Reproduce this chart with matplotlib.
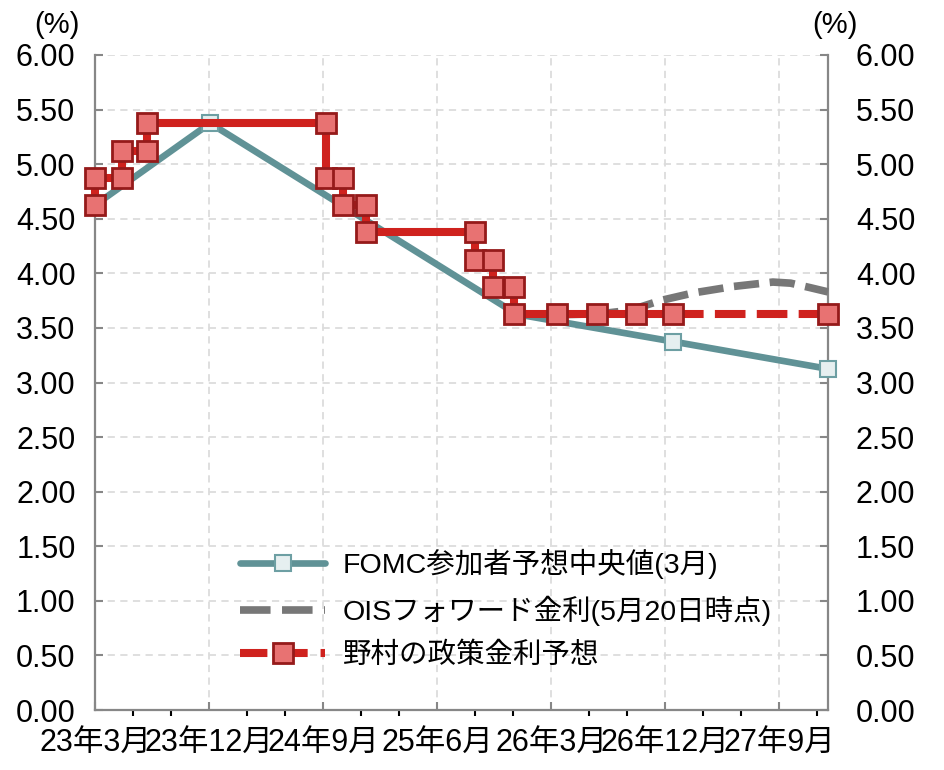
import matplotlib
matplotlib.use('Agg')
import matplotlib.pyplot as plt
from matplotlib.lines import Line2D
from matplotlib.ticker import MultipleLocator, FixedLocator

plt.rcParams['font.family'] = ['Liberation Sans', 'Noto Sans CJK JP']

# x = months since 2023年3月
fomc_x = [0, 9.08, 33.3, 45.62, 57.85]
fomc_y = [4.625, 5.375, 3.625, 3.375, 3.125]

ois_x = [36.5, 39.9, 41.4, 43.0, 44.6, 47.2, 50.4, 53.5, 54.9, 56.4, 57.85]
ois_y = [3.62, 3.63, 3.65, 3.69, 3.75, 3.82, 3.88, 3.92, 3.91, 3.87, 3.83]

nomura_x = [0, 0, 2.13, 2.13, 4.1, 4.1, 18.23, 18.23, 19.57, 19.57, 21.39, 21.39,
            30.0, 30.0, 31.41, 31.41, 33.07, 33.07, 36.46, 39.62, 42.7, 45.62]
nomura_y = [4.625, 4.875, 4.875, 5.125, 5.125, 5.375, 5.375, 4.875, 4.875, 4.625, 4.625, 4.375,
            4.375, 4.125, 4.125, 3.875, 3.875, 3.625, 3.625, 3.625, 3.625, 3.625]
nomura_tail_x = [45.62, 57.85]
nomura_tail_y = [3.625, 3.625]

xtick_pos = [0, 9, 18, 27, 36, 45, 54]
xtick_labels = ['23年3月', '23年12月', '24年9月', '25年6月', '26年3月', '26年12月', '27年9月']

labels = ['FOMC参加者予想中央値(3月)', 'OISフォワード金利(5月20日時点)', '野村の政策金利予想']

teal = '#609296'
teal_face = '#e6eff0'
teal_edge = '#6d9fa3'
gray = '#777777'
red = '#cf221e'
red_face = '#e87272'
red_edge = '#951a1a'
axis_gray = '#878787'

fig = plt.figure(figsize=(9.44, 7.7), dpi=100)
ax = fig.add_axes([95/944, 1 - 710/770, (828-95)/944, (710-55)/770])

ax.plot(fomc_x, fomc_y, color=teal, lw=4.8, marker='s', ms=12,
        mfc=teal_face, mec=teal_edge, mew=1.5, zorder=3, clip_on=False)
ax.plot(ois_x, ois_y, color=gray, lw=5.5, dashes=(3.3, 1.4), zorder=4, clip_on=False)
ax.plot(nomura_x, nomura_y, color=red, lw=5.8, zorder=5, clip_on=False)
ax.plot(nomura_tail_x, nomura_tail_y, color=red, lw=5.8, dashes=(3.8, 1.4), zorder=5,
        clip_on=False)
ax.plot(nomura_x + nomura_tail_x[1:], nomura_y + nomura_tail_y[1:], ls='none',
        marker='s', ms=14, mfc=red_face, mec=red_edge, mew=2, zorder=6, clip_on=False)

ax.set_xlim(0, 57.85)
ax.set_ylim(0, 6)
ax.xaxis.set_major_locator(FixedLocator(xtick_pos))
ax.set_xticks(xtick_pos, xtick_labels)
ax.xaxis.set_minor_locator(MultipleLocator(3))
ax.yaxis.set_major_locator(MultipleLocator(0.5))
ax.yaxis.set_major_formatter('{x:.2f}')

ax.grid(True, which='major', color='#dcdcdc', lw=1.3, ls=(0, (4, 3)))
ax.set_axisbelow(True)

for s in ['left', 'bottom', 'right']:
    ax.spines[s].set_color(axis_gray)
    ax.spines[s].set_linewidth(1.6)
ax.spines['top'].set_visible(False)

ax.tick_params(axis='both', direction='in', colors=axis_gray, width=1.5, labelcolor='black',
               labelsize=22)
ax.tick_params(axis='y', length=6, pad=14)
ax.tick_params(axis='x', which='major', length=6, pad=13)
ax.tick_params(axis='x', which='minor', length=4, width=1.5)

ax2 = ax.twinx()
ax2.set_ylim(0, 6)
ax2.yaxis.set_major_locator(MultipleLocator(0.5))
ax2.yaxis.set_major_formatter('{x:.2f}')
ax2.tick_params(axis='y', direction='in', colors=axis_gray, width=1.5, length=6,
                labelcolor='black', labelsize=22, pad=20)
for s in ax2.spines.values():
    s.set_visible(False)

fig.text(57/944, 1 - 25/770, '(%)', fontsize=21, ha='center', va='center')
fig.text(835/944, 1 - 25/770, '(%)', fontsize=21, ha='center', va='center')

handles = [
    Line2D([], [], color=teal, lw=4.8, marker='s', ms=12, mfc=teal_face, mec=teal_edge,
           mew=1.5, solid_capstyle='round'),
    Line2D([], [], color=gray, lw=5.5, dashes=(4, 1.5)),
    Line2D([], [], color=red, lw=5.8, dashes=(3.4, 1.6), marker='s', ms=14,
           mfc=red_face, mec=red_edge, mew=2),
]
fig.legend(handles, labels, loc='upper left', bbox_to_anchor=(240/944, 1 - 549/770),
           frameon=False, borderpad=0, borderaxespad=0, handlelength=3.0,
           handletextpad=0.6, labelspacing=0.58, fontsize=20.5)

fig.savefig('out.png', dpi=100)
